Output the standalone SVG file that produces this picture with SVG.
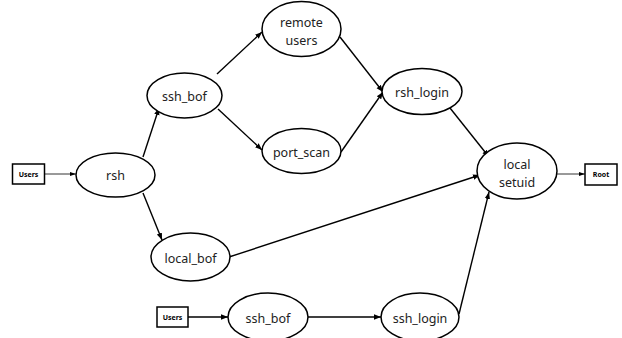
<svg xmlns="http://www.w3.org/2000/svg" width="622" height="338" viewBox="0 0 622 338">
<style>
.node ellipse{fill:#fff;stroke:#000;stroke-width:1.5}
.box rect{fill:#fff;stroke:#000;stroke-width:1.5}
.lbl{font-family:"Noto Sans","Noto Sans CJK KR",sans-serif;font-size:12.5px;fill:#222;text-anchor:middle;dominant-baseline:central}
.blbl{font-family:"Noto Sans","Noto Sans CJK KR",sans-serif;font-size:7px;font-weight:bold;fill:#000;text-anchor:middle;dominant-baseline:central}
.edge{stroke:#000;stroke-width:1.4;fill:none;marker-end:url(#ah)}
.thin{stroke:#000;stroke-width:0.8;fill:none;marker-end:url(#ah2)}
</style>
<defs>
<marker id="ah" markerUnits="userSpaceOnUse" markerWidth="8" markerHeight="8" viewBox="0 0 8 8" refX="7" refY="4" orient="auto"><path d="M0,1.3 L7,4 L0,6.7 Z" fill="#000"/></marker>
<marker id="ah2" markerUnits="userSpaceOnUse" markerWidth="8" markerHeight="8" viewBox="0 0 8 8" refX="7" refY="4" orient="auto"><path d="M1,2 L7,4 L1,6 Z" fill="#000"/></marker>
</defs>
<g id="connectors">
<line class="thin" x1="44" y1="174" x2="76" y2="174"/>
<line class="edge" x1="143" y1="157" x2="159" y2="108"/>
<line class="edge" x1="143" y1="193" x2="162" y2="240"/>
<line class="edge" x1="217" y1="74" x2="262" y2="32"/>
<line class="edge" x1="218" y1="109" x2="262" y2="150"/>
<line class="edge" x1="340" y1="37" x2="383" y2="92"/>
<line class="edge" x1="341" y1="152" x2="383" y2="92"/>
<line class="edge" x1="450" y1="108" x2="489" y2="157"/>
<line class="edge" x1="229" y1="257" x2="480" y2="175"/>
<line class="edge" x1="459" y1="314" x2="489" y2="192"/>
<line class="thin" x1="557" y1="174" x2="585" y2="174"/>
<line class="edge" x1="188" y1="317" x2="228" y2="317"/>
<line class="edge" x1="308" y1="317" x2="381" y2="317"/>
</g>
<g id="users1" class="box"><rect x="12.5" y="164" width="32" height="20"/><text class="blbl" x="28.5" y="174">Users</text></g>
<g id="rsh" class="node"><ellipse cx="115.5" cy="175" rx="39.5" ry="22"/><text class="lbl" x="115.5" y="175">rsh</text></g>
<g id="ssh_bof" class="node"><ellipse cx="184.5" cy="95.5" rx="37.5" ry="22.5"/><text class="lbl" x="184.5" y="96">ssh_bof</text></g>
<g id="remote_users" class="node"><ellipse cx="301.5" cy="29" rx="39.5" ry="27.5"/><text class="lbl" x="301.5" y="22">remote</text><text class="lbl" x="301.5" y="40">users</text></g>
<g id="port_scan" class="node"><ellipse cx="301.5" cy="151" rx="39.5" ry="22.5"/><text class="lbl" x="301.5" y="152">port_scan</text></g>
<g id="rsh_login" class="node"><ellipse cx="422" cy="91.5" rx="40" ry="23"/><text class="lbl" x="422" y="92">rsh_login</text></g>
<g id="local_setuid" class="node"><ellipse cx="517" cy="171" rx="40" ry="28"/><text class="lbl" x="517" y="164">local</text><text class="lbl" x="517" y="182">setuid</text></g>
<g id="root" class="box"><rect x="585" y="164" width="32" height="21"/><text class="blbl" x="601" y="174.5">Root</text></g>
<g id="local_bof" class="node"><ellipse cx="190.5" cy="257" rx="39.5" ry="24"/><text class="lbl" x="190.5" y="258">local_bof</text></g>
<g id="users2" class="box"><rect x="157" y="307" width="31" height="20"/><text class="blbl" x="172.5" y="317">Users</text></g>
<g id="ssh_bof2" class="node"><ellipse cx="268" cy="317" rx="40" ry="24"/><text class="lbl" x="268" y="318">ssh_bof</text></g>
<g id="ssh_login" class="node"><ellipse cx="420" cy="317" rx="39" ry="24"/><text class="lbl" x="420" y="318">ssh_login</text></g>
</svg>
